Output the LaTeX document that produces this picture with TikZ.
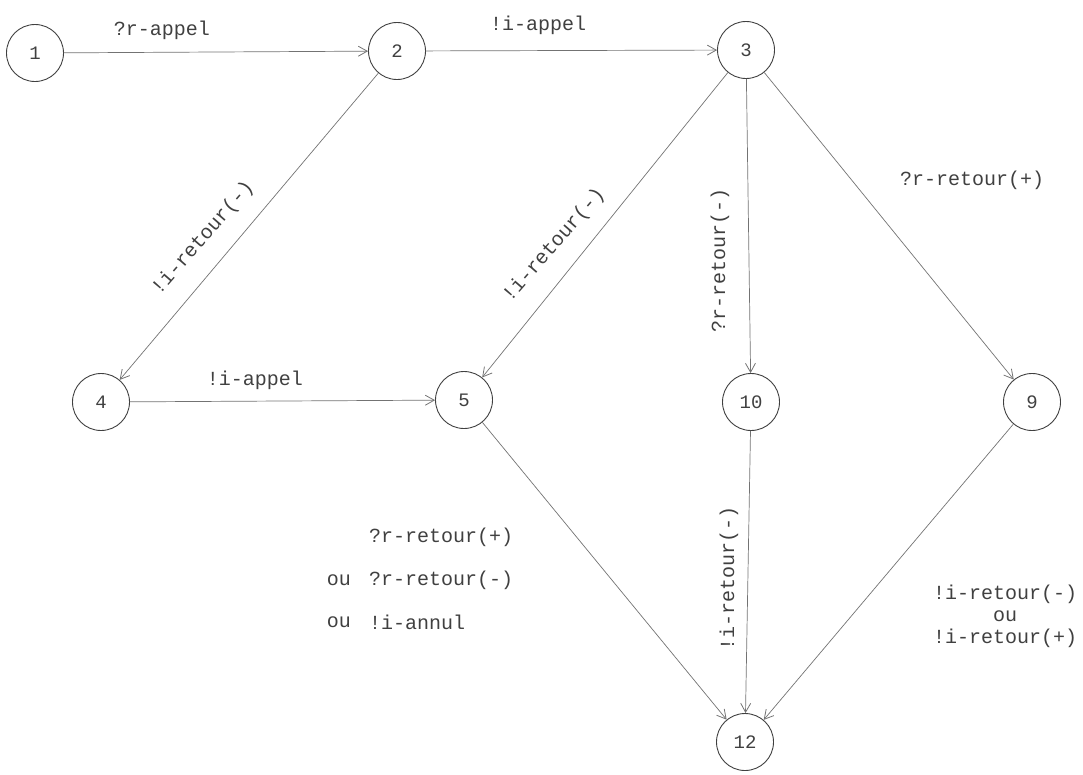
\documentclass[tikz,border=0pt]{standalone}
\usepackage{fontspec}
\setmonofont{Liberation Mono}
\usetikzlibrary{arrows.meta}
\definecolor{ink}{gray}{0.25}
\definecolor{lineink}{gray}{0.45}
\tikzset{
  state/.style={circle,draw=ink,line width=0.9pt,minimum size=57pt,inner sep=0pt,
    font=\ttfamily\fontsize{19}{19}\selectfont,text=ink},
  edge/.style={draw=lineink,line width=0.7pt,-{Straight Barb[length=9pt,width=10pt,line width=0.8pt]}},
  lab/.style={font=\ttfamily\fontsize{20}{22}\selectfont,text=ink,inner sep=1pt}
}
\begin{document}
\begin{tikzpicture}[x=1pt,y=-1pt]
\useasboundingbox (0,0) rectangle (1083,774);
\node[state] (n1) at (35,53) {1};
\node[state] (n2) at (397,51) {2};
\node[state] (n3) at (746,50) {3};
\node[state] (n4) at (101,402) {4};
\node[state] (n5) at (464,400) {5};
\node[state] (n10) at (751,402) {10};
\node[state] (n9) at (1032,402) {9};
\node[state] (n12) at (745,742) {12};

\draw[edge] (n1) -- (n2);
\draw[edge] (n2) -- (n3);
\draw[edge] (n2) -- (n4);
\draw[edge] (n4) -- (n5);
\draw[edge] (n3) -- (n5);
\draw[edge] (n3) -- (n10);
\draw[edge] (n3) -- (n9);
\draw[edge] (n5) -- (n12);
\draw[edge] (n10) -- (n12);
\draw[edge] (n9) -- (n12);

\node[lab] (l12) at (162,30) {?r-appel};
\node[lab] (l23) at (538,25) {!i-appel};
\node[lab] (l45) at (255,380) {!i-appel};
\node[lab,rotate=49] (l24) at (203,238) {!i-retour(-)};
\node[lab,rotate=49] (l35) at (554,245) {!i-retour(-)};
\node[lab,rotate=90] (l310) at (720,260) {?r-retour(-)};
\node[lab] (l39) at (972,180) {?r-retour(+)};
\node[lab,rotate=90] (l1012) at (729,578) {!i-retour(-)};
\node[lab,anchor=west] (l512a) at (368,537) {?r-retour(+)};
\node[lab,anchor=west] (l512b) at (368,580) {?r-retour(-)};
\node[lab,anchor=west] (l512c) at (368,622) {!i-annul};
\node[lab,anchor=east] (ou1) at (352,580) {ou};
\node[lab,anchor=east] (ou2) at (352,622) {ou};
\node[lab,align=center] (l912) at (1005,616) {!i-retour(-)\\ou\\!i-retour(+)};
\end{tikzpicture}
\end{document}
